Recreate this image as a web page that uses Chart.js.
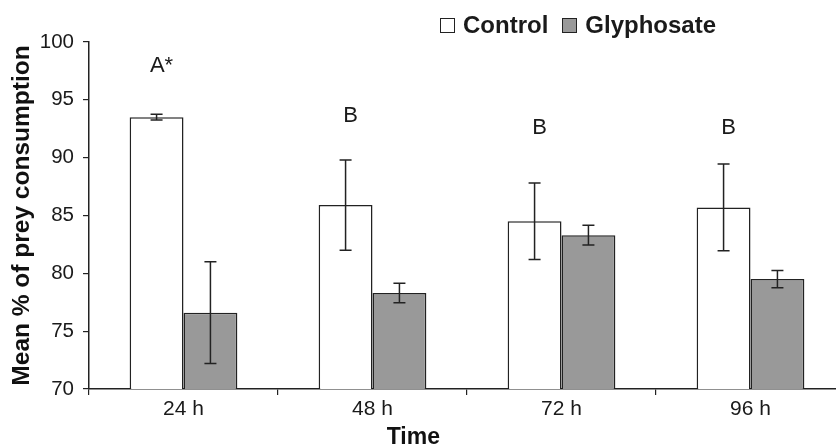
<!DOCTYPE html>
<html>
<head>
<meta charset="utf-8">
<script src="https://cdn.jsdelivr.net/npm/chart.js@4.4.1/dist/chart.umd.min.js"></script>
<style>
  html, body { margin: 0; padding: 0; background: #fff; overflow: hidden; }
  #wrap { position: relative; width: 850px; height: 446px; }
  #legend {
    position: absolute; left: 440px; top: 11px;
    font: bold 24px "Liberation Sans", Arial, sans-serif; color: #1a1a1a;
    display: flex; align-items: center; white-space: nowrap;
  }
  #legend .box { display: inline-block; width: 13px; height: 13px; border: 1.5px solid #222; margin-right: 8px; }
  #legend .item { display: flex; align-items: center; margin-right: 14px; }
</style>
</head>
<body>
<div id="wrap">
  <canvas id="chart" width="850" height="446"></canvas>
  <div id="legend"></div>
</div>
<script>
// categories and series
const timeLabels = ['24 h', '48 h', '72 h', '96 h'];
const controlMeans = [93.5, 85.9, 84.5, 85.7];
const controlErr = [0.25, 3.9, 3.3, 3.75];
const glyphosateMeans = [76.6, 78.3, 83.3, 79.5];
const glyphosateErr = [4.4, 0.85, 0.85, 0.75];
// significance letters above the control bars, and the value at which they sit
const sigLetters = ['A*', 'B', 'B', 'B'];
const sigLetterValues = [97.9, 93.6, 92.6, 92.6];
const yTicks = [70, 75, 80, 85, 90, 95, 100];

const seriesNames = ['Control', 'Glyphosate'];
const seriesFill = ['#ffffff', '#999999'];
const errs = [controlErr, glyphosateErr];

const ink = '#222222';
const fontFamily = '"Liberation Sans", Arial, Helvetica, sans-serif';

// legend as html
const legendEl = document.getElementById('legend');
seriesNames.forEach((name, i) => {
    const item = document.createElement('span');
    item.className = 'item';
    const box = document.createElement('span');
    box.className = 'box';
    box.style.background = seriesFill[i];
    item.appendChild(box);
    item.appendChild(document.createTextNode(name));
    legendEl.appendChild(item);
});

const errorBarPlugin = {
    id: 'errorBars',
    afterDatasetsDraw(chart) {
        const ctx = chart.ctx;
        const yScale = chart.scales.y;
        ctx.save();
        ctx.strokeStyle = ink;
        ctx.lineWidth = 1.5;
        chart.data.datasets.forEach((ds, di) => {
            const meta = chart.getDatasetMeta(di);
            meta.data.forEach((bar, i) => {
                const v = ds.data[i];
                const e = errs[di][i];
                const yHi = yScale.getPixelForValue(v + e);
                const yLo = yScale.getPixelForValue(v - e);
                const cap = 6;
                ctx.beginPath();
                ctx.moveTo(bar.x, yHi); ctx.lineTo(bar.x, yLo);
                ctx.moveTo(bar.x - cap, yHi); ctx.lineTo(bar.x + cap, yHi);
                ctx.moveTo(bar.x - cap, yLo); ctx.lineTo(bar.x + cap, yLo);
                ctx.stroke();
            });
        });
        ctx.restore();
    }
};

const letterPlugin = {
    id: 'sigLetters',
    afterDatasetsDraw(chart) {
        const ctx = chart.ctx;
        const yScale = chart.scales.y;
        const meta = chart.getDatasetMeta(0);
        ctx.save();
        ctx.fillStyle = '#1a1a1a';
        ctx.font = '22px ' + fontFamily;
        ctx.textAlign = 'center';
        ctx.textBaseline = 'middle';
        sigLetters.forEach((txt, i) => {
            const x = meta.data[i].x + 5;
            ctx.fillText(txt, x, yScale.getPixelForValue(sigLetterValues[i]));
        });
        ctx.restore();
    }
};

// x axis title sits left of the plot centre in the original
const xTitlePlugin = {
    id: 'xTitle',
    afterDraw(chart) {
        const ctx = chart.ctx;
        const area = chart.chartArea;
        ctx.save();
        ctx.fillStyle = '#111';
        ctx.font = 'bold 23px ' + fontFamily;
        ctx.textAlign = 'center';
        ctx.textBaseline = 'alphabetic';
        ctx.fillText('Time', area.left + (area.right - area.left) * 0.429, 444);
        ctx.restore();
    }
};

new Chart(document.getElementById('chart'), {
    type: 'bar',
    data: {
        labels: timeLabels,
        datasets: [
            {
                label: seriesNames[0],
                data: controlMeans,
                backgroundColor: seriesFill[0],
                borderColor: ink,
                borderWidth: 1.5,
                categoryPercentage: 0.57,
                barPercentage: 1.0
            },
            {
                label: seriesNames[1],
                data: glyphosateMeans,
                backgroundColor: seriesFill[1],
                borderColor: ink,
                borderWidth: 1.5,
                categoryPercentage: 0.57,
                barPercentage: 1.0
            }
        ]
    },
    options: {
        responsive: false,
        animation: false,
        layout: { padding: { top: 42, right: 5, left: 0, bottom: 0 } },
        plugins: {
            legend: { display: false },
            tooltip: { enabled: false }
        },
        scales: {
            x: {
                offset: true,
                grid: { offset: true, drawOnChartArea: false, drawTicks: true, tickLength: 6, color: ink, lineWidth: 1.2 },
                border: { color: ink, width: 1.5 },
                ticks: { color: '#1a1a1a', font: { family: fontFamily, size: 21 }, padding: 2 },
                afterFit(scale) { scale.height = 57; }
            },
            y: {
                min: 70, max: 100,
                afterBuildTicks(scale) { scale.ticks = yTicks.map(v => ({ value: v })); },
                grid: { drawOnChartArea: false, drawTicks: true, tickLength: 6, color: ink, lineWidth: 1.2 },
                border: { color: ink, width: 1.5 },
                ticks: { color: '#1a1a1a', font: { family: fontFamily, size: 20.5 }, padding: 9 },
                title: {
                    display: true, text: 'Mean % of prey consumption', color: '#111',
                    font: { family: fontFamily, size: 24.5, weight: 'bold', lineHeight: 1.2 },
                    padding: { top: 8, bottom: 0 }
                },
                afterFit(scale) { scale.width = 89; }
            }
        }
    },
    plugins: [errorBarPlugin, letterPlugin, xTitlePlugin]
});
</script>
</body>
</html>
